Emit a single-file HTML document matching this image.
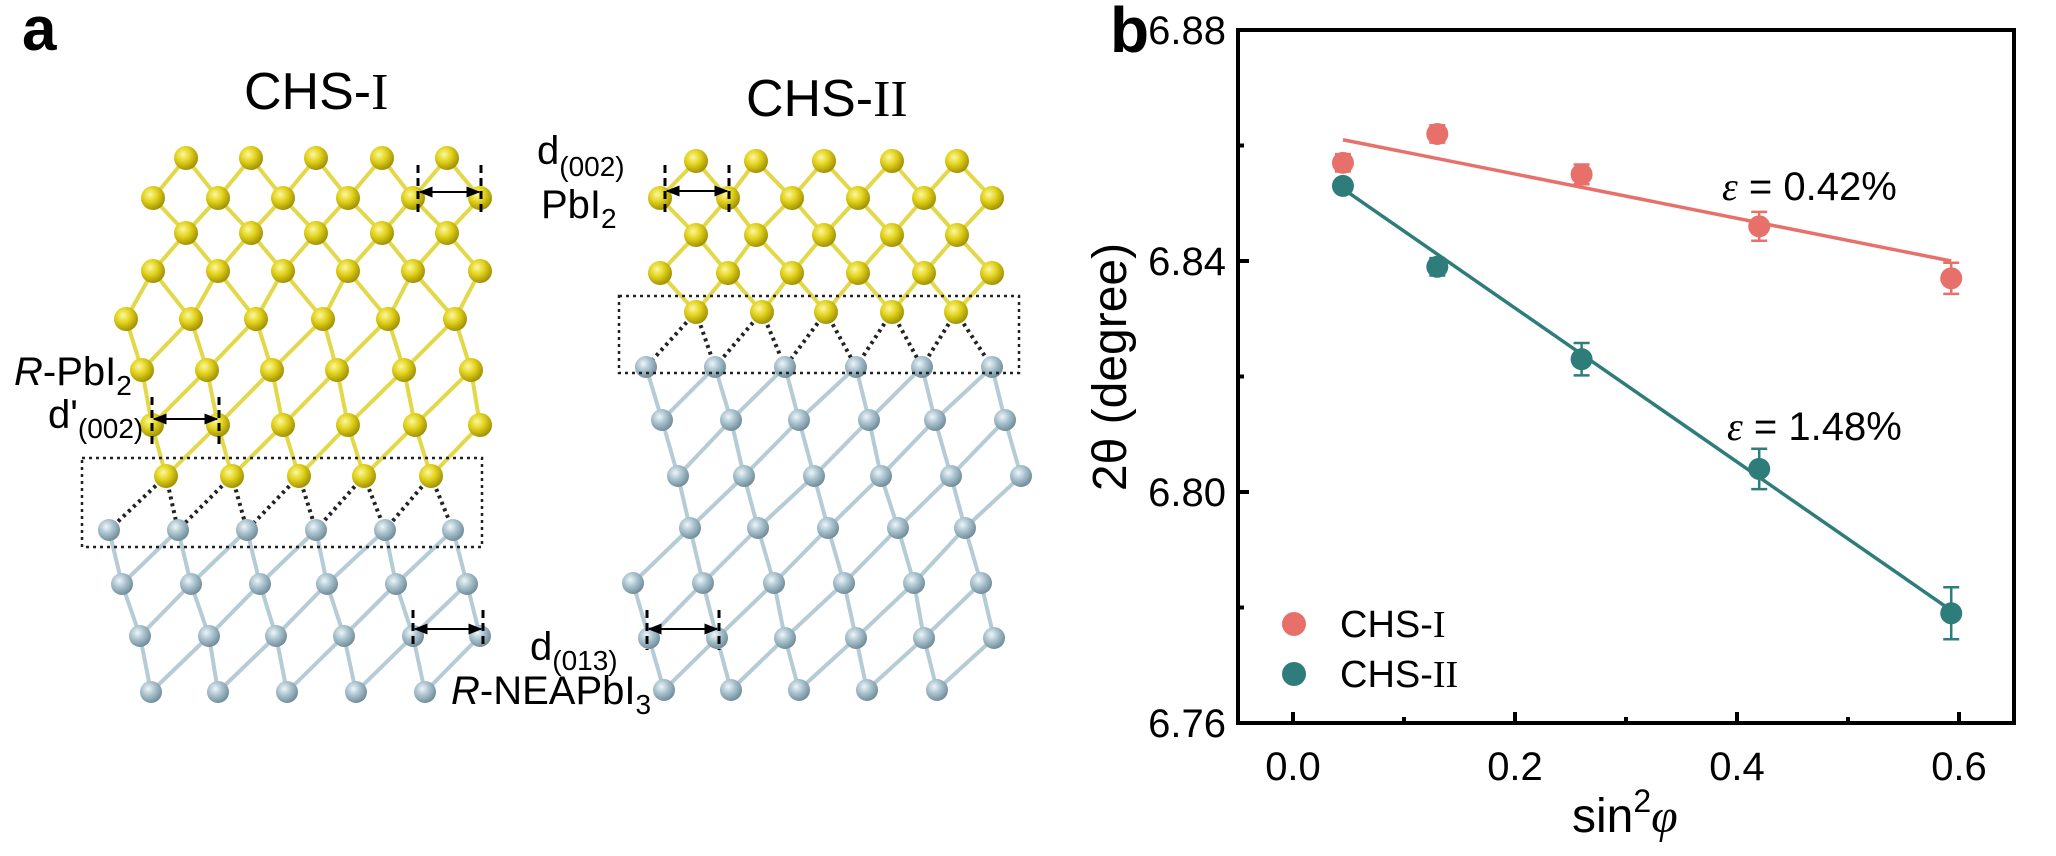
<!DOCTYPE html>
<html><head><meta charset="utf-8"><style>
html,body{margin:0;padding:0;background:#fff;}
svg{display:block;font-family:"Liberation Sans",Arial,sans-serif;}
.s{font-family:"Liberation Serif",serif;}
</style></head><body>
<svg id="c" width="2056" height="856" viewBox="0 0 2056 856" xmlns="http://www.w3.org/2000/svg">
<defs>
<radialGradient id="gy" cx="0.38" cy="0.35" r="0.7"><stop offset="0" stop-color="#fbf7a0"/><stop offset="0.45" stop-color="#e2d21c"/><stop offset="1" stop-color="#9a8a00"/></radialGradient>
<radialGradient id="gb" cx="0.38" cy="0.35" r="0.7"><stop offset="0" stop-color="#eef5f8"/><stop offset="0.45" stop-color="#a9c2ce"/><stop offset="1" stop-color="#6b8794"/></radialGradient>
<marker id="ah" viewBox="0 0 10 10" refX="9" refY="5" markerWidth="7" markerHeight="7" orient="auto-start-reverse"><path d="M0,1 L10,5 L0,9 z" fill="#000"/></marker>
</defs>
<g id="bonds"></g>
<g id="atoms"></g>
<!-- dotted boxes -->
<rect x="82" y="458" width="400" height="89" fill="none" stroke="#222" stroke-width="2.5" stroke-dasharray="3,4"/>
<rect x="619" y="296" width="400" height="77" fill="none" stroke="#222" stroke-width="2.5" stroke-dasharray="3,4"/>
<g id="meas" stroke="#000"></g>
<!-- panel a labels -->
<text x="22" y="50" font-size="62" font-weight="bold">a</text>
<text x="244" y="109" font-size="52">CHS-<tspan class="s" font-family="Liberation Serif,serif">I</tspan></text>
<text x="746" y="116" font-size="52">CHS-<tspan font-family="Liberation Serif,serif">II</tspan></text>
<text x="537" y="164" font-size="40">d<tspan font-size="28" dy="12">(002)</tspan></text>
<text x="541" y="218" font-size="40">PbI<tspan font-size="28" dy="10">2</tspan></text>
<text x="14" y="385" font-size="40"><tspan font-style="italic">R</tspan>-PbI<tspan font-size="28" dy="10">2</tspan></text>
<text x="48" y="428" font-size="40">d'<tspan font-size="28" dy="10">(002)</tspan></text>
<text x="530" y="660" font-size="40">d<tspan font-size="28" dy="10">(013)</tspan></text>
<text x="451" y="704" font-size="40"><tspan font-style="italic">R</tspan>-NEAPbI<tspan font-size="28" dy="10">3</tspan></text>
<!-- panel b -->
<text x="1110" y="52" font-size="64" font-weight="bold">b</text>
<g id="plot"></g>
</svg>
<script>
const NS="http://www.w3.org/2000/svg";
function el(p,t,a,txt){const e=document.createElementNS(NS,t);for(const k in a)e.setAttribute(k,a[k]);if(txt!==undefined)e.textContent=txt;document.getElementById(p).appendChild(e);return e;}
function lattice(rows,colors){
  for(let r=0;r<rows.length-1;r++){
    const A=rows[r],B=rows[r+1];
    for(const xa of A[1])for(const xb of B[1]){
      const dx=xb-xa;if(Math.abs(dx)<62){
        const dotted=A[2]!==B[2];
        const col=dotted?"#222":(A[2]=="y"?"#e3d84a":"#b5cbd6");
        el("bonds","line",{x1:xa,y1:A[0],x2:xb,y2:B[0],stroke:col,"stroke-width":dotted?4:4,"stroke-dasharray":dotted?"3,4":"none"});
      }}
  }
  for(const R of rows)for(const x of R[1])el("atoms","circle",{cx:x,cy:R[0],r:R[2]=="y"?12:11,fill:R[2]=="y"?"url(#gy)":"url(#gb)"});
}
lattice([
 [158,[186,251,316,382,447],"y"],
 [198,[153,218,283,348,413,480],"y"],
 [233,[186,251,316,382,447],"y"],
 [271,[153,218,283,348,413,480],"y"],
 [319,[126,191,256,323,388,455],"y"],
 [370,[142,207,272,337,404,471],"y"],
 [425,[152,218,283,348,415,480],"y"],
 [476,[166,232,299,364,431],"y"],
 [530,[109,178,247,316,385,453],"b"],
 [584,[122,191,260,327,396,467],"b"],
 [636,[140,209,276,344,413,480],"b"],
 [692,[151,218,287,356,425],"b"]
]);
lattice([
 [161,[696,756,824,892,957],"y"],
 [198,[660,728,792,858,924,992],"y"],
 [235,[696,756,824,892,957],"y"],
 [273,[660,728,792,858,924,992],"y"],
 [312,[696,762,826,892,956],"y"],
 [367,[646,715,785,856,922,992],"b"],
 [420,[662,731,799,869,935,1005],"b"],
 [476,[678,744,814,881,951,1021],"b"],
 [528,[690,758,828,898,965],"b"],
 [583,[633,703,774,844,914,981],"b"],
 [638,[649,717,785,856,924,994],"b"],
 [690,[664,731,799,867,937],"b"]
]);
function meas(x1,x2,y1,y2,ya){
  el("meas","line",{x1:x1,y1:y1,x2:x1,y2:y2,"stroke-width":3,"stroke-dasharray":"8,5"});
  el("meas","line",{x1:x2,y1:y1,x2:x2,y2:y2,"stroke-width":3,"stroke-dasharray":"8,5"});
  el("meas","line",{x1:x1+2,y1:ya,x2:x2-2,y2:ya,"stroke-width":2,"marker-start":"url(#ah)","marker-end":"url(#ah)"});
}
meas(418,481,165,216,192);
meas(152,219,397,448,419);
meas(413,483,610,648,629);
meas(665,729,165,216,191);
meas(647,719,610,650,629);

// plot
const X=s=>1293+s*1110, Y=v=>30+(6.88-v)*5775;
const P="plot";
el(P,"rect",{x:1238,y:30,width:776,height:693,fill:"none",stroke:"#000","stroke-width":4});
[[6.88,1],[6.86,0],[6.84,1],[6.82,0],[6.80,1],[6.78,0],[6.76,1]].forEach(([v,m])=>{
  el(P,"line",{x1:1238,y1:Y(v),x2:1238+(m?11:6),y2:Y(v),stroke:"#000","stroke-width":4});
  if(m)el(P,"text",{x:1226,y:Y(v)+14,"font-size":40,"text-anchor":"end"},v.toFixed(2));
});
[[0,1],[0.1,0],[0.2,1],[0.3,0],[0.4,1],[0.5,0],[0.6,1]].forEach(([s,m])=>{
  el(P,"line",{x1:X(s),y1:723,x2:X(s),y2:723-(m?11:6),stroke:"#000","stroke-width":4});
  if(m)el(P,"text",{x:X(s),y:780,"font-size":40,"text-anchor":"middle"},s.toFixed(1));
});
const R="#e8706a",T="#2e7d7b";
el(P,"line",{x1:X(0.045),y1:Y(6.861),x2:X(0.593),y2:Y(6.840),stroke:R,"stroke-width":3.5});
el(P,"line",{x1:X(0.045),y1:Y(6.8525),x2:X(0.593),y2:Y(6.7795),stroke:T,"stroke-width":3.5});
function pt(s,v,e,c){
  const x=X(s),y=Y(v),d=e*5775;
  if(e>0){el(P,"line",{x1:x,y1:y-d,x2:x,y2:y+d,stroke:c,"stroke-width":2.5});
  el(P,"line",{x1:x-8,y1:y-d,x2:x+8,y2:y-d,stroke:c,"stroke-width":2.5});
  el(P,"line",{x1:x-8,y1:y+d,x2:x+8,y2:y+d,stroke:c,"stroke-width":2.5});}
  el(P,"circle",{cx:x,cy:y,r:11,fill:c});
}
[[0.045,6.857,0.0015],[0.13,6.862,0.0015],[0.26,6.855,0.0017],[0.42,6.846,0.0025],[0.593,6.837,0.0027]].forEach(a=>pt(a[0],a[1],a[2],R));
[[0.045,6.853,0.0005],[0.13,6.839,0.0015],[0.26,6.823,0.0028],[0.42,6.804,0.0035],[0.593,6.779,0.0045]].forEach(a=>pt(a[0],a[1],a[2],T));
const t1=el(P,"text",{x:1722,y:200,"font-size":40});
t1.innerHTML='<tspan font-family="Liberation Serif,serif" font-style="italic">ε</tspan> = 0.42%';
const t2=el(P,"text",{x:1727,y:440,"font-size":40});
t2.innerHTML='<tspan font-family="Liberation Serif,serif" font-style="italic">ε</tspan> = 1.48%';
el(P,"circle",{cx:1294,cy:624,r:12,fill:R});
el(P,"circle",{cx:1294,cy:674,r:12,fill:T});
const l1=el(P,"text",{x:1340,y:637,"font-size":38});l1.innerHTML='CHS-<tspan font-family="Liberation Serif,serif">I</tspan>';
const l2=el(P,"text",{x:1340,y:687,"font-size":38});l2.innerHTML='CHS-<tspan font-family="Liberation Serif,serif">II</tspan>';
el(P,"text",{x:1126,y:367,"font-size":48,"text-anchor":"middle",transform:"rotate(-90 1126 367)"},"2θ (degree)");
const xl=el(P,"text",{x:1572,y:832,"font-size":48});
xl.innerHTML='sin<tspan font-size="32" dy="-20">2</tspan><tspan dy="20" font-family="Liberation Serif,serif" font-style="italic">φ</tspan>';
</script>
</body></html>
